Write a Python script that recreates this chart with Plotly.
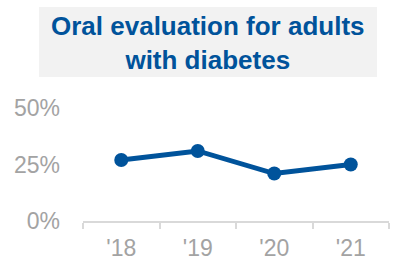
import plotly.graph_objects as go

years = ["'18", "'19", "'20", "'21"]
values = [27, 31, 21, 25]
y_ticks = [0, 25, 50]
y_tick_labels = ["0%", "25%", "50%"]
title_text = "<b>Oral evaluation for adults<br>with diabetes</b>"

BLUE = "#00539b"
GRAY = "#a3a3a3"

fig = go.Figure()
fig.add_trace(go.Scatter(
    x=years, y=values, mode="lines+markers",
    line=dict(color=BLUE, width=5),
    marker=dict(color=BLUE, size=14),
    hoverinfo="skip", cliponaxis=False,
))

L, R, T, B = 83, 5, 108, 35
W, H = 394, 256
pw, ph = W - L - R, H - T - B

def px_to_paper_x(px):
    return (px - L) / pw

def px_to_paper_y(py):
    return (H - B - py) / ph

fig.add_shape(type="rect", xref="paper", yref="paper",
              x0=px_to_paper_x(39), x1=px_to_paper_x(377),
              y0=px_to_paper_y(77), y1=px_to_paper_y(7),
              fillcolor="#f2f2f2", line=dict(width=0), layer="below")
fig.add_annotation(text=title_text, xref="paper", yref="paper",
                   x=px_to_paper_x(208), y=px_to_paper_y(43),
                   xanchor="center", yanchor="middle", showarrow=False,
                   font=dict(family="Liberation Sans, Arial", size=26, color=BLUE),
                   align="center")

fig.update_layout(
    width=W, height=H,
    margin=dict(l=L, r=R, t=T, b=B, pad=0, autoexpand=False),
    paper_bgcolor="white", plot_bgcolor="white",
    showlegend=False,
    font=dict(family="Liberation Sans, Arial", color=GRAY, size=23),
)
fig.update_xaxes(
    type="category", range=[-0.5, 3.5], automargin=False,
    showgrid=False, showline=True, linecolor="#d9d9d9", linewidth=1.5,
    ticks="outside", ticklen=6, tickcolor="#d9d9d9", tickwidth=1.5,
    tickson="boundaries", tickfont=dict(size=23, color=GRAY),
    ticklabelstandoff=6,
    zeroline=False, fixedrange=True,
)
fig.update_yaxes(
    range=[0, 50], tickvals=y_ticks, ticktext=y_tick_labels, automargin=False,
    showgrid=False, showline=False, zeroline=False,
    tickfont=dict(size=23, color=GRAY), ticks="", ticklabelstandoff=22,
    fixedrange=True,
)

fig.write_html("out.html", config={"displayModeBar": False})
with open("out.html", encoding="utf-8") as f:
    html = f.read()
html = html.replace("<body>", '<body style="margin:0;padding:0;overflow:hidden">', 1)
with open("out.html", "w", encoding="utf-8") as f:
    f.write(html)
